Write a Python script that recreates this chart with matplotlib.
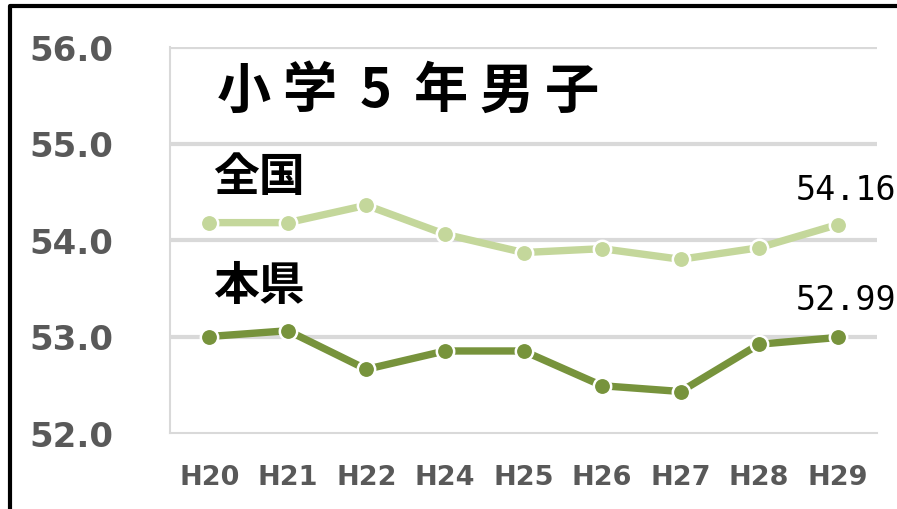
import matplotlib
matplotlib.use("Agg")
import matplotlib.pyplot as plt
from matplotlib.lines import Line2D

years = ["H20", "H21", "H22", "H24", "H25", "H26", "H27", "H28", "H29"]
national = [54.18, 54.18, 54.36, 54.06, 53.87, 53.91, 53.80, 53.92, 54.16]
prefecture = [53.00, 53.06, 52.66, 52.85, 52.85, 52.49, 52.43, 52.92, 52.99]
yticks = [52.0, 53.0, 54.0, 55.0, 56.0]
title_chars = ["小", "学", "5", "年", "男", "子"]

jp = ["Noto Sans CJK JP", "DejaVu Sans"]


def main() -> None:
    W, H = 897, 510
    fig = plt.figure(figsize=(W / 100, H / 100), dpi=100)
    ax = fig.add_axes([170 / W, 1 - 434 / H, (877 - 170) / W, (434 - 48) / H])

    x = list(range(len(years)))
    ax.set_xlim(-0.5, len(years) - 0.5)
    ax.set_ylim(52, 56)

    # gridlines
    for v in yticks[1:]:
        ax.axhline(v, color="#D9D9D9", linewidth=3, zorder=1)
    for s in ["top", "right"]:
        ax.spines[s].set_visible(False)
    for s in ["left", "bottom"]:
        ax.spines[s].set_color("#D9D9D9")
        ax.spines[s].set_linewidth(1.5)

    # (values, colour, label offset)
    series = [(national, "#C4D79B", 25), (prefecture, "#77933C", 27)]
    for vals, colour, dy in series:
        ax.plot(x, vals, color=colour, linewidth=5.3, marker="o", markersize=12.5,
                markerfacecolor=colour, markeredgecolor="white",
                markeredgewidth=1.8, zorder=3, solid_capstyle="butt")
        ax.annotate("%.2f" % vals[-1], (x[-1], vals[-1]), xytext=(6, dy),
                    textcoords="offset points", ha="center", va="center",
                    fontsize=24, family="DejaVu Sans Mono", color="black")

    ax.set_yticks(yticks)
    ax.set_yticklabels(["%.1f" % v for v in yticks])
    ax.set_xticks(x)
    ax.set_xticklabels(years)
    ax.tick_params(axis="y", length=0, pad=41, labelsize=24.5, labelcolor="#595959")
    ax.tick_params(axis="x", length=0, pad=22, labelsize=19.5, labelcolor="#595959")
    for lab in ax.get_yticklabels() + ax.get_xticklabels():
        lab.set_fontweight("bold")

    # title, spaced out like the original
    for i, ch in enumerate(title_chars):
        fig.text((244 + i * 65.6) / W, 1 - 92 / H, ch, family=jp, fontsize=39,
                 fontweight="bold", va="center", ha="center")
    fig.text(213 / W, 1 - 178 / H, "全国", family=jp, fontsize=33,
             fontweight="bold", va="center", ha="left")
    fig.text(213 / W, 1 - 287 / H, "本県", family=jp, fontsize=33,
             fontweight="bold", va="center", ha="left")

    # outer frame (only left and top edges visible)
    fig.add_artist(Line2D([10 / W, 10 / W, 1.01], [-0.01, 1 - 7 / H, 1 - 7 / H],
                          transform=fig.transFigure, color="black", linewidth=3))

    fig.savefig("out.png", dpi=100)


if __name__ == "__main__":
    main()
